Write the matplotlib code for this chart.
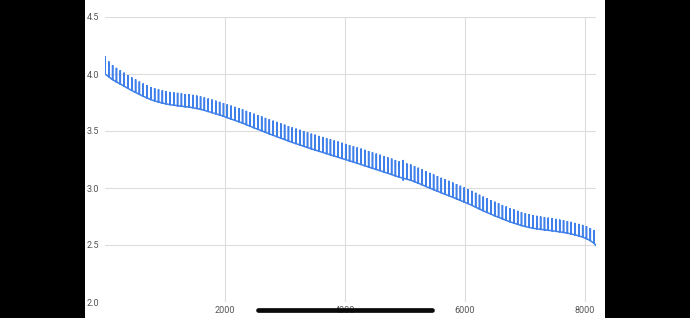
import matplotlib
matplotlib.use("Agg")
import matplotlib.pyplot as plt
import numpy as np
from matplotlib.lines import Line2D
from matplotlib.patches import Rectangle

# pulse times (s), one per vertical spike
pulse_t = [0, 64, 127, 191, 255, 319, 382, 446, 510, 573,
           637, 701, 764, 828, 892, 956, 1019, 1083, 1147, 1210,
           1274, 1338, 1401, 1465, 1529, 1593, 1656, 1720, 1784, 1847,
           1911, 1975, 2038, 2102, 2166, 2230, 2293, 2357, 2421, 2484,
           2548, 2612, 2675, 2739, 2803, 2867, 2930, 2994, 3058, 3121,
           3185, 3249, 3312, 3376, 3440, 3504, 3567, 3631, 3695, 3758,
           3822, 3886, 3949, 4013, 4077, 4141, 4204, 4268, 4332, 4395,
           4459, 4523, 4586, 4650, 4714, 4778, 4841, 4905, 4969, 5032,
           5096, 5160, 5223, 5287, 5351, 5415, 5478, 5542, 5606, 5669,
           5733, 5797, 5860, 5924, 5988, 6052, 6115, 6179, 6243, 6306,
           6370, 6434, 6497, 6561, 6625, 6689, 6752, 6816, 6880, 6943,
           7007, 7071, 7134, 7198, 7262, 7326, 7389, 7453, 7517, 7580,
           7644, 7708, 7771, 7835, 7899, 7963, 8026, 8090, 8154]

# voltage under load at each pulse
base_v = [4.000, 3.975, 3.950, 3.930, 3.912, 3.893, 3.874, 3.855, 3.838, 3.821,
          3.805, 3.790, 3.775, 3.764, 3.754, 3.745, 3.738, 3.731, 3.726, 3.722,
          3.717, 3.713, 3.710, 3.704, 3.697, 3.690, 3.681, 3.671, 3.661, 3.651,
          3.641, 3.629, 3.617, 3.605, 3.593, 3.581, 3.569, 3.555, 3.542, 3.528,
          3.515, 3.502, 3.488, 3.475, 3.462, 3.450, 3.437, 3.425, 3.412, 3.400,
          3.389, 3.378, 3.366, 3.355, 3.343, 3.333, 3.322, 3.312, 3.301, 3.291,
          3.280, 3.270, 3.259, 3.249, 3.238, 3.228, 3.217, 3.206, 3.195, 3.184,
          3.173, 3.162, 3.152, 3.140, 3.129, 3.118, 3.106, 3.095, 3.086, 3.077,
          3.068, 3.055, 3.042, 3.028, 3.013, 2.999, 2.985, 2.972, 2.958, 2.945,
          2.932, 2.918, 2.905, 2.891, 2.877, 2.863, 2.848, 2.832, 2.815, 2.800,
          2.785, 2.770, 2.756, 2.743, 2.729, 2.716, 2.703, 2.692, 2.681, 2.670,
          2.662, 2.654, 2.647, 2.642, 2.637, 2.633, 2.629, 2.625, 2.620, 2.615,
          2.610, 2.604, 2.597, 2.589, 2.580, 2.569, 2.555, 2.538, 2.515]

# voltage recovery during each rest pulse
jump_v = [0.155, 0.135, 0.128, 0.124, 0.121, 0.119, 0.117, 0.115, 0.114, 0.113,
          0.112, 0.112, 0.111, 0.111, 0.112, 0.112, 0.111, 0.112, 0.112, 0.113,
          0.113, 0.112, 0.113, 0.113, 0.114, 0.113, 0.114, 0.114, 0.115, 0.115,
          0.115, 0.116, 0.117, 0.118, 0.119, 0.120, 0.121, 0.122, 0.123, 0.124,
          0.125, 0.126, 0.127, 0.128, 0.129, 0.130, 0.130, 0.131, 0.131, 0.132,
          0.132, 0.133, 0.133, 0.134, 0.134, 0.135, 0.135, 0.136, 0.136, 0.137,
          0.137, 0.138, 0.138, 0.138, 0.139, 0.139, 0.139, 0.140, 0.140, 0.140,
          0.140, 0.140, 0.140, 0.140, 0.140, 0.140, 0.140, 0.140, 0.160, 0.138,
          0.138, 0.137, 0.136, 0.136, 0.135, 0.134, 0.134, 0.133, 0.132, 0.132,
          0.131, 0.130, 0.130, 0.129, 0.128, 0.128, 0.127, 0.126, 0.126, 0.125,
          0.125, 0.124, 0.124, 0.123, 0.122, 0.122, 0.121, 0.120, 0.119, 0.118,
          0.117, 0.116, 0.115, 0.114, 0.113, 0.112, 0.111, 0.110, 0.109, 0.108,
          0.107, 0.106, 0.106, 0.105, 0.105, 0.107, 0.109, 0.111, 0.117]

# one pulse where the trace dips below the load voltage
dip_v = {78: 3.066}

end_t = 8185
end_v = 2.495

xticks = [2000, 4000, 6000, 8000]
yticks = [2.0, 2.5, 3.0, 3.5, 4.0, 4.5]

xs, ys = [], []
for i, (t, b, j) in enumerate(zip(pulse_t, base_v, jump_v)):
    xs += [t, t, t]
    ys += [b, b + j, b]
    if i in dip_v:
        xs += [t, t]
        ys += [dip_v[i], b]
xs.append(end_t)
ys.append(end_v)

fig = plt.figure(figsize=(6.9, 3.18), dpi=100, facecolor='black')
fig.add_artist(Rectangle((85/690, 0), 520/690, 1, transform=fig.transFigure,
                         facecolor='white', edgecolor='none', zorder=-5))

ax = fig.add_axes([105/690, 16/318, 491/690, 285/318])
ax.set_facecolor('white')
ax.plot(xs, ys, color='#3f80ea', lw=1.1, solid_joinstyle='miter')

ax.set_xlim(0, end_t)
ax.set_ylim(2.0, 4.5)
ax.set_xticks(xticks)
ax.set_xticklabels([str(v) for v in xticks])
ax.set_yticks(yticks)
ax.set_yticklabels(['%.1f' % v for v in yticks])
ax.grid(True, color='#dcdcdc', lw=0.8)
ax.set_axisbelow(True)
for s in ax.spines.values():
    s.set_visible(False)
ax.tick_params(length=0, labelsize=6.5, labelcolor='#555555')
ax.tick_params(axis='y', pad=4)
ax.tick_params(axis='x', pad=3)
for lab in ax.get_xticklabels() + ax.get_yticklabels():
    lab.set_family('Roboto')

# phone scroll bar overlay
fig.add_artist(Line2D([258/690, 432/690], [1 - 309.5/318, 1 - 309.5/318],
                      transform=fig.transFigure, color='#0a0a0a', lw=3.4,
                      solid_capstyle='round', zorder=10))

fig.savefig('out.png', dpi=100, facecolor='black')
